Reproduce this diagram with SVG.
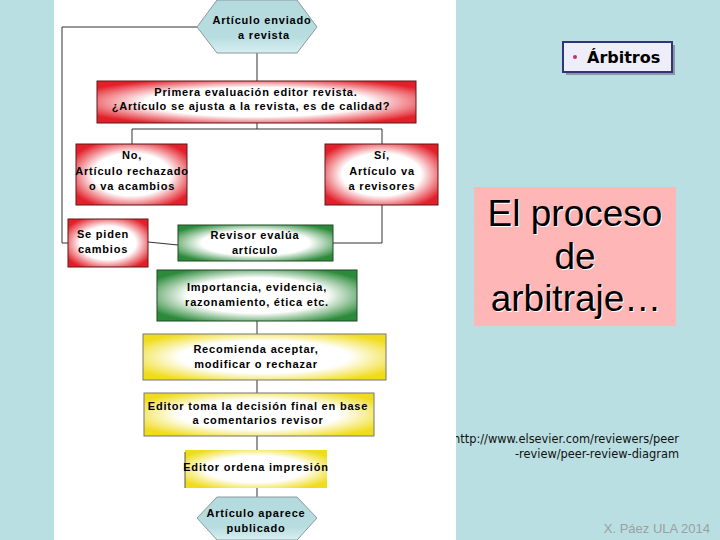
<svg xmlns="http://www.w3.org/2000/svg" width="720" height="540" viewBox="0 0 720 540">
<defs>
<radialGradient id="gRed" cx="0.5" cy="0.5" r="0.6"><stop offset="0" stop-color="#fff"/><stop offset="0.58" stop-color="#fff"/><stop offset="1" stop-color="#e3202a"/></radialGradient>
<radialGradient id="gGreen" cx="0.5" cy="0.5" r="0.6"><stop offset="0" stop-color="#fff"/><stop offset="0.58" stop-color="#fff"/><stop offset="1" stop-color="#2c8a3a"/></radialGradient>
<radialGradient id="gYellow" cx="0.5" cy="0.5" r="0.6"><stop offset="0" stop-color="#fff"/><stop offset="0.58" stop-color="#fff"/><stop offset="1" stop-color="#f0dc1c"/></radialGradient>
<linearGradient id="gHex" x1="0" y1="0" x2="0" y2="1"><stop offset="0" stop-color="#b3dade"/><stop offset="0.7" stop-color="#b8dde1"/><stop offset="1" stop-color="#d8eff1"/></linearGradient>
<style>
.t{font-family:"Liberation Sans",Arial,sans-serif;font-weight:bold;font-size:11px;letter-spacing:0.8px;fill:#000;text-anchor:middle}
.red{fill:url(#gRed);stroke:#5a1a1a;stroke-width:1}
.green{fill:url(#gGreen);stroke:#1f4a25;stroke-width:1}
.yellow{fill:url(#gYellow);stroke:#777;stroke-width:1}
.hex{fill:url(#gHex);stroke:#8a9a9c;stroke-width:1}
.c{fill:none;stroke:#333;stroke-width:1}
.url{font-family:"DejaVu Sans",sans-serif;font-size:11.4px;fill:#111;text-anchor:end}
</style>
</defs>
<rect x="0" y="0" width="720" height="540" fill="#b9dfe2"/>
<text class="url" x="679" y="443">http://www.elsevier.com/reviewers/peer</text>
<rect x="54" y="0" width="402" height="540" fill="#fff"/>
<g id="connectors">
<polyline class="c" points="197,27 62,27 62,243 68,243"/>
<line class="c" x1="257" y1="53" x2="257" y2="81"/>
<line class="c" x1="257" y1="123" x2="257" y2="129"/>
<polyline class="c" points="132,144 132,129 382,129 382,144"/>
<polyline class="c" points="382,205 382,243 333,243"/>
<line class="c" x1="148" y1="242" x2="178" y2="245"/>
<line class="c" x1="257" y1="321" x2="257" y2="334"/>
<line class="c" x1="257" y1="380" x2="257" y2="393"/>
<line class="c" x1="257" y1="436" x2="257" y2="450"/>
<line class="c" x1="257" y1="488" x2="257" y2="506"/>
</g>
<g id="n-enviado">
<polygon class="hex" points="217,0 297,0 317,27 297,53 217,53 197,27"/>
<text class="t" x="262" y="24">Artículo enviado</text>
<text class="t" x="264" y="39">a revista</text>
</g>
<g id="n-primera">
<rect class="red" x="97" y="81" width="319" height="42"/>
<text class="t" x="256" y="96">Primera evaluación editor revista.</text>
<text class="t" x="251" y="110">¿Artículo se ajusta  a la revista, es de calidad?</text>
</g>
<g id="n-no">
<rect class="red" x="76" y="144" width="111" height="61"/>
<text class="t" x="132" y="159">No,</text>
<text class="t" x="132" y="175">Artículo rechazado</text>
<text class="t" x="132" y="190">o va acambios</text>
</g>
<g id="n-si">
<rect class="red" x="325" y="144" width="113" height="61"/>
<text class="t" x="382" y="159">Sí,</text>
<text class="t" x="382" y="175">Artículo va</text>
<text class="t" x="382" y="190">a revisores</text>
</g>
<g id="n-cambios">
<rect class="red" x="68" y="219" width="80" height="48"/>
<text class="t" x="103" y="238">Se piden</text>
<text class="t" x="103" y="253">cambios</text>
</g>
<g id="n-revisor">
<rect class="green" x="178" y="225" width="155" height="36"/>
<text class="t" x="255" y="239">Revisor evalúa</text>
<text class="t" x="255" y="254">artículo</text>
</g>
<g id="n-importancia">
<rect class="green" x="157" y="270" width="200" height="51"/>
<text class="t" x="257" y="291">Importancia, evidencia,</text>
<text class="t" x="257" y="306">razonamiento, ética etc.</text>
</g>
<g id="n-recomienda">
<rect class="yellow" x="143" y="334" width="243" height="46"/>
<text class="t" x="256" y="353">Recomienda aceptar,</text>
<text class="t" x="256" y="368">modificar o rechazar</text>
</g>
<g id="n-decision">
<rect class="yellow" x="144" y="393" width="230" height="43"/>
<text class="t" x="258" y="410">Editor toma la decisión final en base</text>
<text class="t" x="258" y="424">a comentarios revisor</text>
</g>
<g id="n-impresion">
<rect x="185" y="450" width="142" height="38" fill="url(#gYellow)"/>
<line x1="185" y1="452" x2="185" y2="488" stroke="#555" stroke-width="1"/>
<text class="t" x="256" y="471">Editor ordena impresión</text>
</g>
<g id="n-publicado">
<polygon class="hex" points="217,497 297,497 317,518 297,540 217,540 197,518"/>
<text class="t" x="256" y="517">Artículo aparece</text>
<text class="t" x="256" y="532">publicado</text>
</g>
<g id="arbitros">
<rect x="566" y="45" width="109" height="30" fill="#8c97a6"/>
<rect x="563" y="42" width="109" height="30" fill="#eeeefa" stroke="#33337a" stroke-width="2"/>
<circle cx="575" cy="57" r="2" fill="#c0306e"/>
<text x="587" y="63" font-family="'DejaVu Sans',sans-serif" font-weight="bold" font-size="16" fill="#000">Árbitros</text>
</g>
<g id="titulo">
<rect x="474" y="187" width="202" height="139" fill="#ffb6b6"/>
<g font-family="'Liberation Sans',Arial,sans-serif" font-size="37" text-anchor="middle">
<text x="576" y="227" fill="#fff">El proceso</text>
<text x="575" y="226" fill="#000">El proceso</text>
<text x="576" y="270" fill="#fff">de</text>
<text x="575" y="269" fill="#000">de</text>
<text x="577" y="312" fill="#fff">arbitraje…</text>
<text x="576" y="311" fill="#000">arbitraje…</text>
</g>
</g>
<text class="url" x="679" y="458">-review/peer-review-diagram</text>
<text x="710" y="533" font-family="'Liberation Sans',Arial,sans-serif" font-size="13" fill="#9aa0a2" text-anchor="end">X. Páez ULA 2014</text>
</svg>
